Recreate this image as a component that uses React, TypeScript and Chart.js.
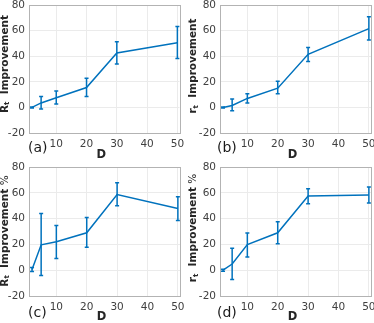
import { useEffect, useRef } from "react";
import { Chart, registerables } from "chart.js";
Chart.register(...registerables);

// ---------- data ----------
const dValues = [2, 5, 10, 20, 30, 50];
const xTicks = [10, 20, 30, 40, 50];
const yTicks = [-20, 0, 20, 40, 60, 80];

const aMean = [0, 3.5, 7.6, 15.5, 42.5, 50.5];
const aLow = [-0.4, -1.3, 2.6, 8.6, 34, 38.2];
const aHigh = [0.4, 8.5, 12.8, 22.8, 51.2, 63.2];

const bMean = [0, 1.5, 7, 15, 41.5, 61.5];
const bLow = [-0.4, -2.6, 3.4, 10.6, 35.8, 52.7];
const bHigh = [0.4, 6.5, 10.6, 20.5, 46.8, 70.9];

const cMean = [0.5, 19.7, 22, 29, 58.7, 47.8];
const cLow = [-1, -4.1, 9, 17.7, 50, 38.5];
const cHigh = [2, 44, 34.6, 40.8, 67.7, 57];

const dMean = [0, 4.8, 19.8, 29, 57.5, 58.2];
const dLow = [-0.8, -7.2, 10.3, 20.6, 51.5, 52];
const dHigh = [0.8, 17, 28.9, 37.6, 63.1, 64.4];

const panelLetters = ["(a)", "(b)", "(c)", "(d)"];
const yTitleMain = ["R", "r", "R", "r"];
const yTitleSub = "t";
const yTitleText = "Improvement";
const yTitleSuffix = ["", "", "%", "%"];
const xTitle = "D";

const means = [aMean, bMean, cMean, dMean];
const lows = [aLow, bLow, cLow, dLow];
const highs = [aHigh, bHigh, cHigh, dHigh];

// ---------- layout ----------
type Layout = {
  left: number; top: number; w: number; h: number;
  pl: number; pr: number; pt: number; pb: number;
  titleX: number; titleCY: number; letterX: number; letterCY: number; dCY: number;
};
const layouts: Layout[] = [
  { left: 0, top: 0, w: 187, h: 161, pl: 29, pr: 179.5, pt: 5, pb: 133, titleX: 5, titleCY: 64, letterX: 28, letterCY: 148.5, dCY: 155 },
  { left: 187, top: 0, w: 187, h: 161, pl: 33, pr: 184, pt: 5, pb: 133, titleX: 6.5, titleCY: 66, letterX: 30, letterCY: 148.5, dCY: 155 },
  { left: 0, top: 161, w: 187, h: 162, pl: 29, pr: 180, pt: 6, pb: 135, titleX: 5, titleCY: 70, letterX: 28, letterCY: 152, dCY: 156.5 },
  { left: 187, top: 161, w: 187, h: 162, pl: 33, pr: 184, pt: 6, pb: 135, titleX: 6.5, titleCY: 67, letterX: 30, letterCY: 152, dCY: 156.5 },
];

const FONT = "'DejaVu Sans', sans-serif";
const BLUE = "#0072BD";
const TEXT = "#404040";
const DARK = "#262626";
const BOX = "#b3b3b3";
const GRID = "#ebebeb";

function Panel({ idx }: { idx: number }) {
  const ref = useRef<HTMLCanvasElement | null>(null);
  const L = layouts[idx];
  useEffect(() => {
    const canvas = ref.current;
    if (!canvas) return;
    const mean = means[idx];
    const low = lows[idx];
    const high = highs[idx];

    const decor = {
      id: "decor" + idx,
      beforeDatasetsDraw(chart: any) {
        const { ctx, chartArea } = chart;
        ctx.save();
        ctx.strokeStyle = BOX;
        ctx.lineWidth = 1;
        ctx.strokeRect(
          Math.round(chartArea.left) + 0.5,
          Math.round(chartArea.top) + 0.5,
          Math.round(chartArea.right - chartArea.left),
          Math.round(chartArea.bottom - chartArea.top)
        );
        ctx.restore();
      },
      afterDatasetsDraw(chart: any) {
        const { ctx, scales } = chart;
        const xs = scales.x;
        const ys = scales.y;
        ctx.save();
        ctx.strokeStyle = BLUE;
        ctx.lineWidth = 1.5;
        for (let i = 0; i < dValues.length; i++) {
          const x = xs.getPixelForValue(dValues[i]);
          const y1 = ys.getPixelForValue(low[i]);
          const y2 = ys.getPixelForValue(high[i]);
          ctx.beginPath();
          ctx.moveTo(x, y1);
          ctx.lineTo(x, y2);
          ctx.moveTo(x - 2, y1);
          ctx.lineTo(x + 2, y1);
          ctx.moveTo(x - 2, y2);
          ctx.lineTo(x + 2, y2);
          ctx.stroke();
        }
        ctx.restore();
      },
      afterDraw(chart: any) {
        const { ctx, chartArea } = chart;
        ctx.save();
        // y title
        ctx.translate(L.titleX, L.titleCY);
        ctx.rotate(-Math.PI / 2);
        ctx.fillStyle = DARK;
        ctx.textBaseline = "middle";
        ctx.textAlign = "left";
        const segs = [
          { t: yTitleMain[idx], f: `bold 10.5px ${FONT}`, dy: 0 },
          { t: yTitleSub, f: `bold 7px ${FONT}`, dy: 2.5 },
          { t: "  " + yTitleText, f: `bold 10.5px ${FONT}`, dy: 0 },
        ];
        if (yTitleSuffix[idx]) segs.push({ t: " " + yTitleSuffix[idx], f: `10.5px ${FONT}`, dy: 0 });
        let total = 0;
        for (const s of segs) {
          ctx.font = s.f;
          total += ctx.measureText(s.t).width;
        }
        let cx = -total / 2;
        for (const s of segs) {
          ctx.font = s.f;
          ctx.fillText(s.t, cx, s.dy);
          cx += ctx.measureText(s.t).width;
        }
        ctx.restore();

        ctx.save();
        ctx.fillStyle = DARK;
        ctx.textBaseline = "middle";
        ctx.textAlign = "center";
        ctx.font = `bold 11.5px ${FONT}`;
        ctx.fillText(xTitle, (chartArea.left + chartArea.right) / 2 - 3, L.dCY);
        ctx.textAlign = "left";
        ctx.font = `14px ${FONT}`;
        ctx.fillStyle = "#1a1a1a";
        ctx.fillText(panelLetters[idx], L.letterX, L.letterCY);
        ctx.restore();
      },
    };

    const chart = new Chart(canvas, {
      type: "line",
      data: {
        datasets: [
          {
            data: dValues.map((d, i) => ({ x: d, y: mean[i] })),
            borderColor: BLUE,
            borderWidth: 1.5,
            pointRadius: 0,
            tension: 0,
            fill: false,
          },
        ],
      },
      options: {
        responsive: false,
        animation: false,
        devicePixelRatio: 1,
        layout: { padding: { left: 0, top: L.pt, right: L.w - L.pr, bottom: 0 } },
        plugins: { legend: { display: false }, tooltip: { enabled: false } },
        scales: {
          x: {
            type: "linear",
            min: 1,
            max: 50.7,
            afterBuildTicks: (s: any) => {
              s.ticks = xTicks.map((v) => ({ value: v }));
            },
            afterFit: (s: any) => {
              s.height = L.h - L.pb;
              s.paddingLeft = 0;
              s.paddingRight = 0;
            },
            grid: { color: GRID, drawTicks: false, lineWidth: 1 },
            border: { display: false },
            ticks: { color: TEXT, font: { family: FONT, size: 10.5 }, padding: 5, maxRotation: 0, autoSkip: false },
          },
          y: {
            type: "linear",
            min: -20,
            max: 80,
            afterBuildTicks: (s: any) => {
              s.ticks = yTicks.map((v) => ({ value: v }));
            },
            afterFit: (s: any) => {
              s.width = L.pl;
              s.paddingTop = 0;
              s.paddingBottom = 0;
            },
            grid: { color: GRID, drawTicks: false, lineWidth: 1 },
            border: { display: false },
            ticks: { color: TEXT, font: { family: FONT, size: 10.5 }, padding: 4, autoSkip: false },
          },
        },
      },
      plugins: [decor],
    } as any);
    return () => chart.destroy();
  }, [idx]);

  return (
    <canvas
      ref={ref}
      width={L.w}
      height={L.h}
      style={{ position: "absolute", left: L.left, top: L.top, width: L.w, height: L.h }}
    />
  );
}

export default function App() {
  return (
    <div style={{ position: "fixed", left: 0, top: 0, width: 374, height: 323, background: "#fff", overflow: "hidden" }}>
      {[0, 1, 2, 3].map((i) => (
        <Panel key={i} idx={i} />
      ))}
    </div>
  );
}
